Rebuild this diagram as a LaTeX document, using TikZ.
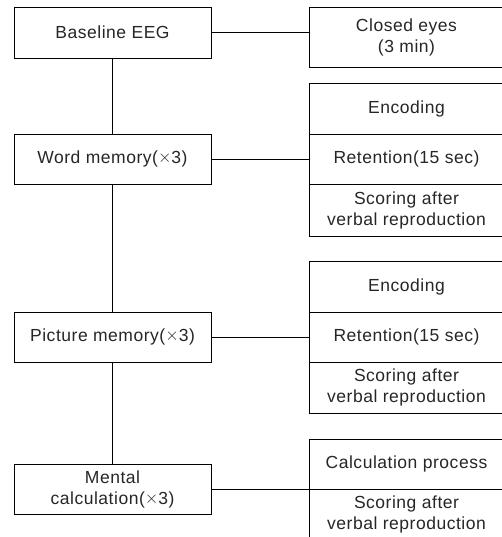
\documentclass[tikz,border=0pt]{standalone}
\usepackage{fontspec}
\setmainfont[LetterSpace=3]{Liberation Sans}
\newcommand{\tms}{\raisebox{0.05em}{$\times$}}
\begin{document}
\begin{tikzpicture}[x=1pt,y=-1pt,
  every node/.style={font=\fontsize{17.5}{21}\selectfont, text=black!85},
  leftbox/.style={draw, line width=0.9pt, minimum width=197pt, minimum height=50pt, inner sep=0pt, align=center},
  rightbox/.style={draw, line width=0.9pt, minimum width=195pt, inner sep=0pt, align=center},
  link/.style={line width=0.9pt}]
\useasboundingbox (0,0) rectangle (502,537);
\clip (0,0) rectangle (502,537);
% left column
\node[leftbox, minimum height=51pt] (base) at (112.5,32.5) {Baseline EEG};
\node[leftbox] (word) at (112.5,159) {Word memory(\tms3)};
\node[leftbox] (pic) at (112.5,337) {Picture memory(\tms3)};
\node[leftbox] (ment) at (112.5,489) {Mental\\calculation(\tms3)};
% right column
\node[rightbox, minimum height=60pt] (closed) at (406.5,37) {Closed eyes\\(3 min)};
\node[rightbox, minimum height=51pt] (we) at (406.5,108.5) {Encoding};
\node[rightbox, minimum height=50pt] (wr) at (406.5,159) {Retention(15 sec)};
\node[rightbox, minimum height=52pt] (ws) at (406.5,210) {Scoring after\\verbal reproduction};
\node[rightbox, minimum height=51pt] (pe) at (406.5,286.5) {Encoding};
\node[rightbox, minimum height=50pt] (pr) at (406.5,337) {Retention(15 sec)};
\node[rightbox, minimum height=51pt] (ps) at (406.5,387.5) {Scoring after\\verbal reproduction};
\node[rightbox, minimum height=50pt] (mc) at (406.5,464) {Calculation process};
\node[rightbox, minimum height=50pt] (ms) at (406.5,514) {Scoring after\\verbal reproduction};
% connectors
\draw[link] (base.south) -- (word.north);
\draw[link] (word.south) -- (pic.north);
\draw[link] (pic.south) -- (ment.north);
\draw[link] (base.east) -- (base.east -| closed.west);
\draw[link] (word.east) -- (wr.west);
\draw[link] (pic.east) -- (pr.west);
\draw[link] (ment.east) -- (ment.east -| mc.west);
\end{tikzpicture}
\end{document}
